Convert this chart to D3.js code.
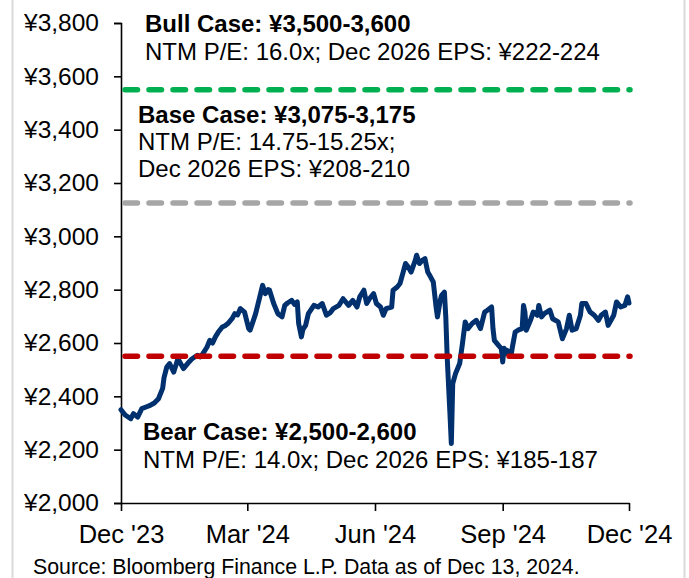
<!DOCTYPE html>
<html>
<head>
<meta charset="utf-8">
<script src="https://cdn.jsdelivr.net/npm/d3@7"></script>
<style>
  body { margin: 0; background: #fff; }
  svg { display: block; font-family: Arial, "Liberation Sans", sans-serif; }
</style>
</head>
<body>
<script>
const priceDates = [
  '2023-12-13', '2023-12-16', '2023-12-20', '2023-12-22', '2023-12-25', '2023-12-28', '2023-12-31',
  '2024-01-03', '2024-01-06', '2024-01-09', '2024-01-12', '2024-01-13', '2024-01-15', '2024-01-17',
  '2024-01-20', '2024-01-23', '2024-01-27', '2024-01-31', '2024-02-02', '2024-02-06', '2024-02-08',
  '2024-02-10', '2024-02-13', '2024-02-15', '2024-02-17', '2024-02-19', '2024-02-21', '2024-02-24',
  '2024-02-26', '2024-02-28', '2024-03-02', '2024-03-04', '2024-03-06', '2024-03-08', '2024-03-11',
  '2024-03-14', '2024-03-15', '2024-03-19', '2024-03-22', '2024-03-24', '2024-03-26', '2024-03-28',
  '2024-03-29', '2024-04-01', '2024-04-04', '2024-04-07', '2024-04-09', '2024-04-11', '2024-04-14',
  '2024-04-16', '2024-04-18', '2024-04-19', '2024-04-21', '2024-04-22', '2024-04-24', '2024-04-26',
  '2024-04-30', '2024-05-03', '2024-05-06', '2024-05-09', '2024-05-12', '2024-05-14', '2024-05-18',
  '2024-05-21', '2024-05-25', '2024-05-28', '2024-05-31', '2024-06-02', '2024-06-05', '2024-06-07',
  '2024-06-09', '2024-06-12', '2024-06-14', '2024-06-17', '2024-06-19', '2024-06-21', '2024-06-25',
  '2024-06-26', '2024-06-29', '2024-07-01', '2024-07-03', '2024-07-05', '2024-07-07', '2024-07-09',
  '2024-07-12', '2024-07-13', '2024-07-15', '2024-07-17', '2024-07-19', '2024-07-21', '2024-07-23',
  '2024-07-25', '2024-07-27', '2024-07-28', '2024-07-30', '2024-07-31', '2024-08-02', '2024-08-03',
  '2024-08-04', '2024-08-06', '2024-08-07', '2024-08-08', '2024-08-10', '2024-08-13', '2024-08-15',
  '2024-08-17', '2024-08-19', '2024-08-22', '2024-08-25', '2024-08-28', '2024-08-31', '2024-09-02',
  '2024-09-05', '2024-09-06', '2024-09-07', '2024-09-10', '2024-09-12', '2024-09-13', '2024-09-14',
  '2024-09-15', '2024-09-16', '2024-09-19', '2024-09-20', '2024-09-22', '2024-09-24', '2024-09-27',
  '2024-09-28', '2024-09-29', '2024-09-30', '2024-10-03', '2024-10-05', '2024-10-08', '2024-10-09',
  '2024-10-11', '2024-10-13', '2024-10-17', '2024-10-19', '2024-10-23', '2024-10-26', '2024-10-29',
  '2024-10-31', '2024-11-02', '2024-11-05', '2024-11-08', '2024-11-09', '2024-11-12', '2024-11-15',
  '2024-11-18', '2024-11-21', '2024-11-23', '2024-11-26', '2024-11-28', '2024-12-02', '2024-12-04',
  '2024-12-07', '2024-12-10', '2024-12-12', '2024-12-13'
]
const prices = [
  2350, 2330, 2316, 2335, 2322, 2354, 2360,
  2366, 2375, 2391, 2430, 2470, 2510, 2523,
  2491, 2541, 2504, 2529, 2540, 2554, 2548,
  2560, 2585, 2610, 2600, 2623, 2640, 2660,
  2665, 2673, 2691, 2710, 2705, 2729, 2716,
  2654, 2648, 2710, 2773, 2816, 2785, 2800,
  2798, 2748, 2710, 2698, 2741, 2750, 2760,
  2745, 2754, 2673, 2623, 2650, 2666, 2710,
  2741, 2735, 2748, 2704, 2715, 2729, 2741,
  2766, 2741, 2760, 2735, 2773, 2798, 2748,
  2766, 2785, 2748, 2735, 2704, 2729, 2735,
  2798, 2810, 2823, 2860, 2898, 2885, 2866,
  2910, 2929, 2898, 2910, 2916, 2866, 2848,
  2829, 2735, 2698, 2760, 2779, 2791, 2698,
  2548, 2335, 2223, 2448, 2485, 2523, 2598,
  2679, 2654, 2673, 2685, 2654, 2716, 2723,
  2735, 2654, 2610, 2591, 2579, 2529, 2580,
  2560, 2573, 2554, 2585, 2641, 2648, 2654,
  2741, 2716, 2648, 2685, 2716, 2704, 2741,
  2698, 2710, 2723, 2691, 2679, 2616, 2654,
  2704, 2648, 2654, 2704, 2748, 2748, 2716,
  2704, 2685, 2704, 2716, 2666, 2704, 2754,
  2735, 2741, 2773, 2750
]

const caseLevels = [3550, 3125, 2550]
const caseTitles = ['Bull Case: ¥3,500-3,600', 'Base Case: ¥3,075-3,175', 'Bear Case: ¥2,500-2,600']
const caseDetails = [
  ['NTM P/E: 16.0x; Dec 2026 EPS: ¥222-224'],
  ['NTM P/E: 14.75-15.25x;', 'Dec 2026 EPS: ¥208-210'],
  ['NTM P/E: 14.0x; Dec 2026 EPS: ¥185-187']
]
const yTicks = [2000, 2200, 2400, 2600, 2800, 3000, 3200, 3400, 3600, 3800]
const xTickDates = ['2023-12-13', '2024-03-13', '2024-06-13', '2024-09-13', '2024-12-13']
const sourceNote = 'Source: Bloomberg Finance L.P. Data as of Dec 13, 2024.'

const W = 689
const H = 578
const plot = { left: 121, right: 629, top: 23, bottom: 503 }
const caseColors = ['#00B050', '#A6A6A6', '#C00000']
// text block anchor (x, first baseline) for each case
const caseTextPos = [[145, 32], [138, 123], [143, 440]]
const lineGap = [28, 27, 28]

const parse = d3.timeParse('%Y-%m-%d')
const series = priceDates.map((d, i) => ({ date: parse(d), value: prices[i] }))

const x = d3.scaleTime()
  .domain([parse(xTickDates[0]), parse(xTickDates[xTickDates.length - 1])])
  .range([plot.left, plot.right])

const y = d3.scaleLinear()
  .domain([2000, 3800])
  .range([plot.bottom, plot.top])

const svg = d3.select('body').append('svg')
  .attr('width', W)
  .attr('height', H)

// light frame on the sides
svg.append('line')
  .attr('x1', 12.5).attr('x2', 12.5).attr('y1', 0).attr('y2', H)
  .attr('stroke', '#d9d9d9').attr('stroke-width', 2)
svg.append('line')
  .attr('x1', 684.5).attr('x2', 684.5).attr('y1', 0).attr('y2', H)
  .attr('stroke', '#d9d9d9').attr('stroke-width', 2)

const yAxis = svg.append('g')
  .attr('transform', `translate(${plot.left},0)`)
  .call(d3.axisLeft(y)
    .tickValues(yTicks)
    .tickSize(7)
    .tickPadding(15)
    .tickFormat(d => '¥' + d3.format(',')(d)))

yAxis.select('.domain').attr('stroke-width', 1.6)
yAxis.selectAll('.tick line').attr('stroke-width', 1.6)
yAxis.selectAll('text')
  .attr('font-size', 24.5)
  .attr('fill', '#000')
  .attr('font-family', 'Arial, "Liberation Sans", sans-serif')

const xAxis = svg.append('g')
  .attr('transform', `translate(0,${plot.bottom})`)
  .call(d3.axisBottom(x)
    .tickValues(xTickDates.map(parse))
    .tickSize(8)
    .tickSizeOuter(0)
    .tickFormat(d3.timeFormat("%b '%y")))

xAxis.select('.domain').attr('stroke-width', 1.6)
xAxis.selectAll('.tick line').attr('stroke-width', 1.6)
xAxis.selectAll('text')
  .attr('font-size', 25.5)
  .attr('fill', '#000')
  .attr('y', 40)
  .attr('dy', null)
  .attr('font-family', 'Arial, "Liberation Sans", sans-serif')

const line = d3.line()
  .x(d => x(d.date))
  .y(d => y(d.value))

svg.append('path')
  .datum(series)
  .attr('d', line)
  .attr('fill', 'none')
  .attr('stroke', '#00306E')
  .attr('stroke-width', 5)
  .attr('stroke-linejoin', 'round')
  .attr('stroke-linecap', 'round')

svg.selectAll('.case-line')
  .data(caseLevels)
  .enter()
  .append('line')
  .attr('class', 'case-line')
  .attr('x1', plot.left + 4)
  .attr('x2', plot.right + 1)
  .attr('y1', d => y(d))
  .attr('y2', d => y(d))
  .attr('stroke', (d, i) => caseColors[i])
  .attr('stroke-width', 5.5)
  .attr('stroke-linecap', 'round')
  .attr('stroke-dasharray', '12.5 11.5')

caseTitles.forEach((title, i) => {
  const [tx, ty] = caseTextPos[i]
  svg.append('text')
    .attr('x', tx)
    .attr('y', ty)
    .attr('font-size', 24)
    .attr('font-weight', 'bold')
    .text(title)
  caseDetails[i].forEach((t, j) => {
    svg.append('text')
      .attr('x', tx)
      .attr('y', ty + lineGap[i] * (j + 1))
      .attr('font-size', 24)
      .text(t)
  })
})

svg.append('text')
  .attr('x', 33)
  .attr('y', 574)
  .attr('font-size', 21.3)
  .text(sourceNote)
</script>
</body>
</html>
